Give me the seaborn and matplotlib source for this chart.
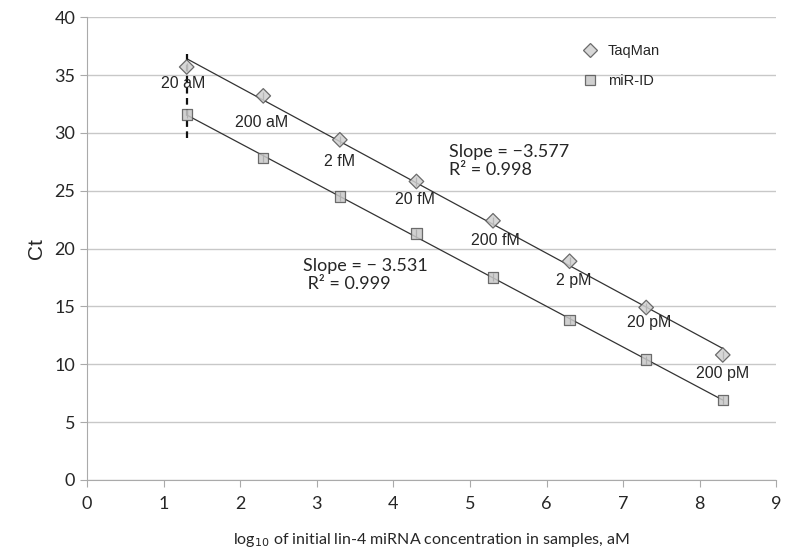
import numpy as np
import pandas as pd
import matplotlib
matplotlib.use("Agg")
import matplotlib.pyplot as plt
import seaborn as sns

# Dữ liệu
log_conc = [1.3, 2.3, 3.3, 4.3, 5.3, 6.3, 7.3, 8.3]
taqman_ct = [35.7, 33.2, 29.4, 25.8, 22.4, 18.9, 14.9, 10.8]
mirid_ct = [31.6, 27.8, 24.5, 21.3, 17.5, 13.8, 10.4, 6.9]
conc_labels = ["20 aM", "200 aM", "2 fM", "20 fM", "200 fM", "2 pM", "20 pM", "200 pM"]
label_x = [1.25, 2.28, 3.3, 4.28, 5.33, 6.35, 7.34, 8.3]
label_y = [34.3, 30.9, 27.5, 24.2, 20.7, 17.2, 13.6, 9.2]

df = pd.DataFrame({
    "x": log_conc * 2,
    "Ct": taqman_ct + mirid_ct,
    "Method": ["TaqMan"] * len(log_conc) + ["miR-ID"] * len(log_conc),
})

sns.set_style("white")
plt.rcParams["font.family"] = ["Liberation Sans", "DejaVu Sans"]

fig = plt.figure(figsize=(7.85, 5.56), dpi=100)
ax = fig.add_axes([0.111, 0.137, 0.878, 0.832])

# Đường hồi quy
for ys in [taqman_ct, mirid_ct]:
    sns.regplot(x=log_conc, y=ys, ax=ax, scatter=False, ci=None, truncate=True,
                line_kws={"color": "#333333", "lw": 0.9})

# Thanh sai số nhỏ
ax.errorbar(df["x"], df["Ct"], yerr=0.35, fmt="none", ecolor="#222222", elinewidth=0.9, zorder=3)

sns.scatterplot(data=df, x="x", y="Ct", hue="Method", style="Method",
                markers={"TaqMan": "D", "miR-ID": "s"},
                palette={"TaqMan": "#d0d0d0", "miR-ID": "#c8c8c8"},
                edgecolor="#555555", linewidth=0.9, s=55, ax=ax, zorder=4, alpha=0.85)

# Đường đứt nét tại 20 aM
ax.plot([log_conc[0], log_conc[0]], [29.6, 36.8], ls=(0, (3, 2)), color="#111111", lw=1.6, zorder=2)

for lx, ly, t in zip(label_x, label_y, conc_labels):
    ax.text(lx, ly, t, ha="center", va="center", fontsize=11.5)

ax.text(4.72, 29.0, "Slope = \u22123.577\nR\u00b2 = 0.998", ha="left", va="top",
        fontsize=13, family=["Lato", "DejaVu Sans"], linespacing=1.15)
ax.text(2.82, 19.2, "Slope = \u2212 3.531\n R\u00b2 = 0.999", ha="left", va="top",
        fontsize=13, family=["Lato", "DejaVu Sans"], linespacing=1.15)

ax.set_xlim(0, 9)
ax.set_ylim(0, 40)
ax.set_xticks(range(0, 10))
ax.set_yticks(range(0, 41, 5))
ax.yaxis.grid(True, color="#c8c8c8", lw=1)
ax.xaxis.grid(False)
for s in ["top", "right"]:
    ax.spines[s].set_visible(False)
for s in ["left", "bottom"]:
    ax.spines[s].set_color("#aaaaaa")
ax.tick_params(axis="both", which="both", direction="out", length=5, color="#aaaaaa",
               labelsize=13, bottom=True, left=True)
for lab in ax.get_xticklabels() + ax.get_yticklabels():
    lab.set_family(["Lato", "DejaVu Sans"])
ax.tick_params(axis="x", pad=7)

ax.set_xlabel("log$_{10}$ of initial lin-4 miRNA concentration in samples, aM",
              fontsize=11.5, family=["Lato", "DejaVu Sans"], labelpad=13)
ax.set_ylabel("Ct", fontsize=15, labelpad=6)

leg = ax.legend(loc="upper left", bbox_to_anchor=(0.69, 0.97), frameon=False,
                fontsize=10.5, labelspacing=1.1, handletextpad=0.2, title=None)

fig.savefig("out.png", dpi=100)
